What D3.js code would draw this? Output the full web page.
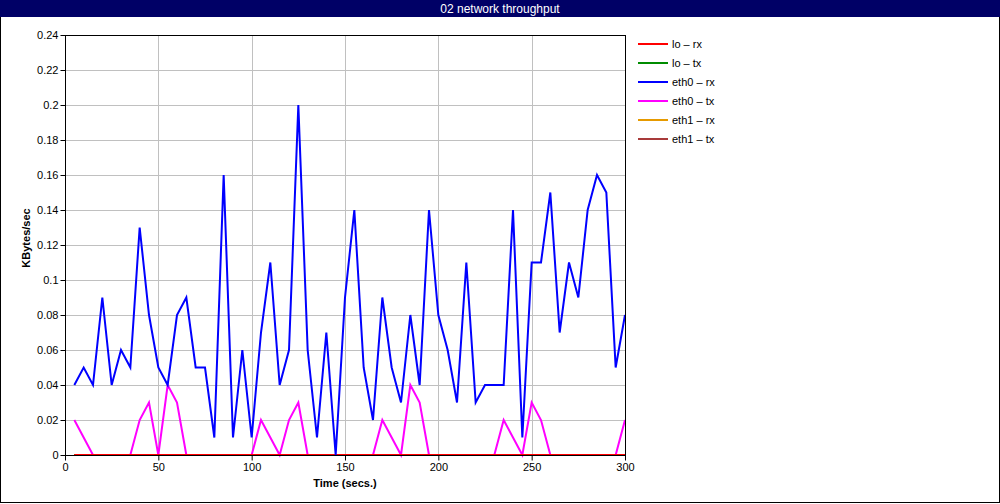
<!DOCTYPE html>
<html><head><meta charset="utf-8">
<script src="https://cdn.jsdelivr.net/npm/d3@7"></script>
<style>
body{margin:0;background:#fff;}
svg{display:block;font-family:"Liberation Sans",Arial,sans-serif;}
</style></head>
<body><svg id="c" width="1000" height="504"></svg>
<script>
const title = "02 network throughput";
const times = d3.range(5, 301, 5);
const seriesNames = ["lo \u2013 rx","lo \u2013 tx","eth0 \u2013 rx","eth0 \u2013 tx","eth1 \u2013 rx","eth1 \u2013 tx"];
const seriesColors = ["#ff0000","#008c00","#0000ff","#ff00ff","#e69a00","#a83a3a"];
const loRx = times.map(() => 0);
const loTx = times.map(() => 0);
const eth0Rx = [0.04,0.05,0.04,0.09,0.04,0.06,0.05,0.13,0.08,0.05,
  0.04,0.08,0.09,0.05,0.05,0.01,0.16,0.01,0.06,0.01,
  0.07,0.11,0.04,0.06,0.2,0.06,0.01,0.07,0,0.09,
  0.14,0.05,0.02,0.09,0.05,0.03,0.08,0.04,0.14,0.08,
  0.06,0.03,0.11,0.03,0.04,0.04,0.04,0.14,0.01,0.11,
  0.11,0.15,0.07,0.11,0.09,0.14,0.16,0.15,0.05,0.08];
const eth0Tx = [0.02,0.01,0,0,0,0,0,0.02,0.03,0,
  0.04,0.03,0,0,0,0,0,0,0,0,
  0.02,0.01,0,0.02,0.03,0,0,0,0,0,
  0,0,0,0.02,0.01,0,0.04,0.03,0,0,
  0,0,0,0,0,0,0.02,0.01,0,0.03,
  0.02,0,0,0,0,0,0,0,0,0.02];
const eth1Rx = times.map(() => 0);
const eth1Tx = times.map(() => 0);
const seriesValues = [loRx, loTx, eth0Rx, eth0Tx, eth1Rx, eth1Tx];
const xTicks = [0,50,100,150,200,250,300];
const yTicks = [0,0.02,0.04,0.06,0.08,0.1,0.12,0.14,0.16,0.18,0.2,0.22,0.24];
const xLabel = "Time (secs.)";
const yLabel = "KBytes/sec";

const svg = d3.select("#c");
const W = 1000, H = 504;
const m = {l:65, r:625, t:35, b:455};

// frame
svg.append("rect").attr("x",0.5).attr("y",0.5).attr("width",W-1).attr("height",H-2)
  .attr("fill","#fff").attr("stroke","#000");
svg.append("rect").attr("x",0).attr("y",0).attr("width",W).attr("height",17).attr("fill","#000066");
svg.append("text").attr("x",500).attr("y",12.5).attr("text-anchor","middle")
  .attr("fill","#fff").attr("font-size",12).text(title);

const x = d3.scaleLinear().domain([0,300]).range([m.l,m.r]);
const y = d3.scaleLinear().domain([0,0.24]).range([m.b,m.t]);

// grid
const g = svg.append("g");
g.selectAll(".gy").data(yTicks).join("line")
  .attr("x1",m.l).attr("x2",m.r).attr("y1",d=>Math.round(y(d))+0.5).attr("y2",d=>Math.round(y(d))+0.5)
  .attr("stroke","#c0c0c0");
g.selectAll(".gx").data(xTicks).join("line")
  .attr("y1",m.t).attr("y2",m.b).attr("x1",d=>Math.round(x(d))+0.5).attr("x2",d=>Math.round(x(d))+0.5)
  .attr("stroke","#c0c0c0");

// axes
const fmt = d => String(+d.toFixed(2));
const ya = svg.append("g").attr("transform",`translate(${m.l+0.5},0)`)
  .call(d3.axisLeft(y).tickValues(yTicks).tickFormat(fmt).tickSize(5).tickSizeOuter(0));
const xa = svg.append("g").attr("transform",`translate(0,${m.b+0.5})`)
  .call(d3.axisBottom(x).tickValues(xTicks).tickFormat(d=>d).tickSize(5).tickSizeOuter(0));
[ya,xa].forEach(a=>{
  a.selectAll("text").attr("font-size",11).attr("fill","#000").attr("font-family","Liberation Sans, Arial, sans-serif");
  a.selectAll("line,path").attr("stroke","#000");
});
ya.select(".domain").remove(); xa.select(".domain").remove();
ya.selectAll("text").attr("x",-7);
xa.selectAll("text").attr("y",8);

svg.append("text").attr("x",345).attr("y",487).attr("text-anchor","middle")
  .attr("font-size",11).attr("font-weight","bold").text(xLabel);
svg.append("text").attr("transform","translate(30,238) rotate(-90)").attr("text-anchor","middle")
  .attr("font-size",11).attr("font-weight","bold").text(yLabel);

// lines
const line = d3.line().x((d,i)=>x(times[i])).y(d=>y(d));
const order = [4,5,1,3,0,2];
order.forEach(k=>{
  svg.append("path").datum(seriesValues[k]).attr("d",line)
    .attr("fill","none").attr("stroke",seriesColors[k]).attr("stroke-width",2)
    .attr("stroke-linejoin","miter");
});

// plot border
svg.append("rect").attr("x",m.l+0.5).attr("y",m.t+0.5).attr("width",m.r-m.l).attr("height",m.b-m.t)
  .attr("fill","none").attr("stroke","#000");

// legend
const lg = svg.append("g");
seriesNames.forEach((n,i)=>{
  const yy = 44 + i*19;
  lg.append("line").attr("x1",638).attr("x2",668).attr("y1",yy).attr("y2",yy)
    .attr("stroke",seriesColors[i]).attr("stroke-width",2);
  lg.append("text").attr("x",672).attr("y",yy+4).attr("font-size",11).text(n);
});
</script></body></html>
